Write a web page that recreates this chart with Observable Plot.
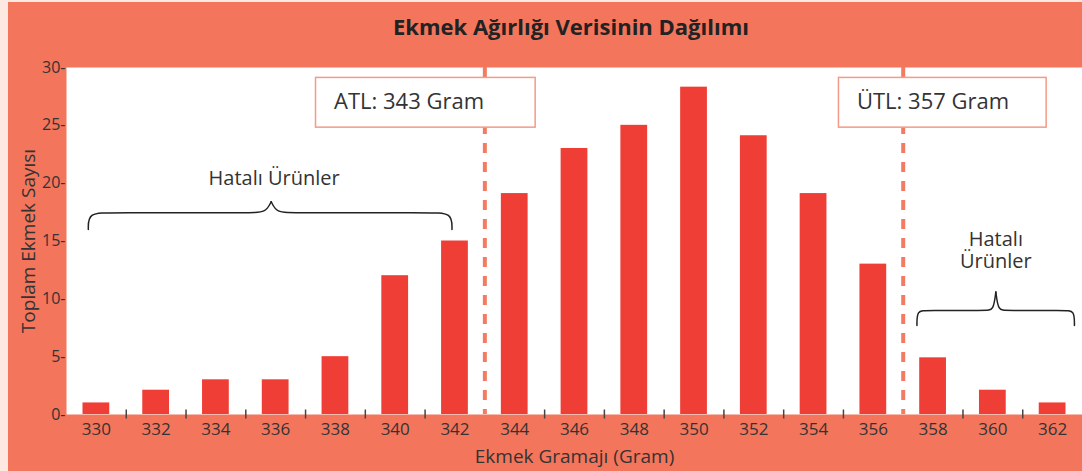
<!DOCTYPE html>
<html><head><meta charset="utf-8">
<script src="https://cdn.jsdelivr.net/npm/d3@7"></script>
<script src="https://cdn.jsdelivr.net/npm/@observablehq/plot@0.6"></script>
<style>
html,body{margin:0;padding:0;background:#fde9e1;width:1082px;height:471px;overflow:hidden;}
#panel{position:absolute;left:8px;top:2px;width:1074px;height:469px;background:#f3755c;font-family:"Open Sans",sans-serif;}
#title{box-sizing:border-box;width:1074px;height:48px;line-height:48px;text-align:center;padding-left:52px;font-weight:bold;font-size:22px;color:#222;}
#chart svg{display:block;}
</style></head><body>
<div id="panel"><div id="title">Ekmek Ağırlığı Verisinin Dağılımı</div><div id="chart"></div></div>
<script>
// data
const grams  = [330, 332, 334, 336, 338, 340, 342, 344, 346, 348, 350, 352, 354, 356, 358, 360, 362];
const counts = [1, 2.1, 3, 3, 5, 12, 15, 19.1, 23, 25, 28.3, 24.1, 19.1, 13, 4.9, 2.1, 1];
const yTicks = [0, 5, 10, 15, 20, 25, 30];
const boundaryTicks = [331, 333, 335, 337, 339, 341, 345, 347, 349, 351, 353, 355, 359, 361];
const limitValues = [343, 357];
const limitLabels = ["ATL: 343 Gram", "ÜTL: 357 Gram"];
const limitBoxX1 = [337.35, 354.85];
const limitBoxX2 = [344.7, 361.8];
const defectLabels = ["Hatalı Ürünler", "Hatalı", "Ürünler"];
const defectLabelX = [335.95, 360.1, 360.1];
const defectLabelY = [20.4, 15.1, 13.2];
// braces: [start, center, end, end-level, mid-level, peak-level]
const braceStart = [329.73, 357.46];
const braceCenter = [335.85, 360.1];
const braceEnd = [341.9, 362.73];
const braceLow = [16.0, 7.7];
const braceMid = [17.45, 9.0];
const bracePeak = [18.4, 10.6];

const bars = grams.map((g, i) => ({g, n: counts[i]}));
const boxes = limitLabels.map((label, i) => ({label, x1: limitBoxX1[i], x2: limitBoxX2[i]}));
const notes = defectLabels.map((t, i) => ({t, x: defectLabelX[i], y: defectLabelY[i]}));

// brace shape points (curved by the library's basis curve)
const bracePts = [];
braceStart.forEach((xa, i) => {
  const xc = braceCenter[i], xb = braceEnd[i];
  const lo = braceLow[i], mid = braceMid[i], pk = bracePeak[i];
  const halves = [[xa, xc], [xb, xc]];
  halves.forEach(([e, c], h) => {
    const w = c - e;
    const pts = [
      [e, lo], [e, mid], [e + w * 0.12, mid], [c - w * 0.12, mid], [c - w * 0.03, mid], [c, pk]
    ];
    pts.forEach(([x, y]) => bracePts.push({x, y, z: i * 2 + h}));
  });
});

const chart = Plot.plot({
  width: 1074,
  height: 421,
  marginTop: 17,
  marginBottom: 57,
  marginLeft: 58,
  marginRight: 0,
  style: {fontFamily: "Open Sans, sans-serif", fontSize: "17px", color: "#333", background: "transparent"},
  x: {type: "linear", domain: [329, 363]},
  y: {domain: [0, 30]},
  marks: [
    Plot.frame({fill: "white", stroke: "none"}),
    Plot.rectY(bars, {x1: d => d.g - 1, x2: d => d.g + 1, y: "n", insetLeft: 16.5, insetRight: 16.5, fill: "#ef3e36"}),
    Plot.ruleX(limitValues, {x: d => d, stroke: "#f47b61", strokeWidth: 4, strokeDasharray: "10,9"}),
    Plot.rect(boxes, {x1: "x1", x2: "x2", y1: 24.8, y2: 29.1, fill: "white", stroke: "#f59a86", strokeWidth: 1.5}),
    Plot.text(boxes, {x: "x1", y: 27, text: "label", textAnchor: "start", dx: 18, fontSize: 22, fill: "#333"}),
    Plot.line(bracePts, {x: "x", y: "y", z: "z", curve: "basis", stroke: "#222", strokeWidth: 1.5}),
    Plot.text(notes, {x: "x", y: "y", text: "t", fontSize: 20, fill: "#333"}),
    Plot.axisY(yTicks, {tickSize: 0, tickPadding: 1, tickFormat: d => d + "-", fontSize: 16, label: null}),
    Plot.axisX(grams, {tickSize: 0, tickPadding: 8, tickFormat: d => String(d), fontSize: 17, label: null}),
    Plot.axisX(boundaryTicks, {tickSize: 9, dy: -4.5, tickFormat: () => "", stroke: "#444", strokeWidth: 1.5, label: null}),
    Plot.text(["Ekmek Gramajı (Gram)"], {frameAnchor: "bottom", textAnchor: "middle", lineAnchor: "middle", dy: 42, fontSize: 19, fill: "#333"}),
    Plot.text(["Toplam Ekmek Sayısı"], {frameAnchor: "left", textAnchor: "middle", lineAnchor: "middle", dx: -38, rotate: -90, fontSize: 19, fill: "#333"})
  ]
});
document.getElementById("chart").appendChild(chart);
</script>
</body></html>
